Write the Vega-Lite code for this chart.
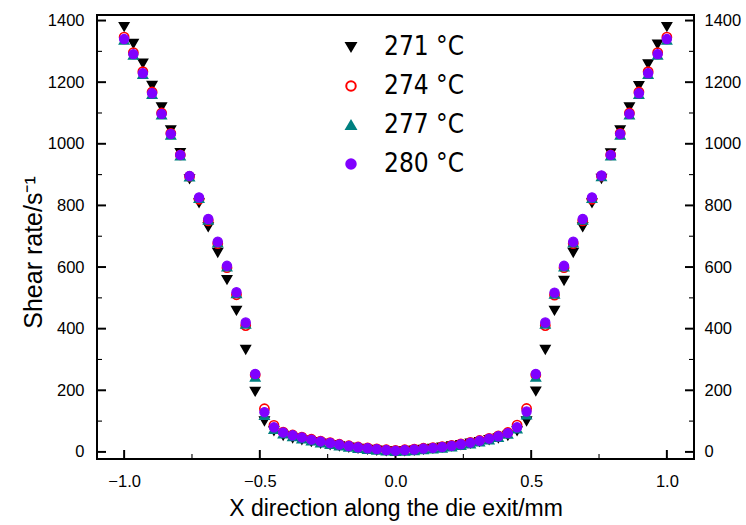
{
  "$schema": "https://vega.github.io/schema/vega-lite/v6.json",
  "width": 597,
  "height": 444,
  "autosize": {"type": "none"},
  "padding": {"left": 97, "top": 15, "right": 52, "bottom": 66},
  "background": "white",
  "config": {
    "view": {"stroke": "black", "strokeWidth": 2},
    "scale": {"continuousPadding": 0},
    "axis": {"grid": false, "domain": false, "ticks": false, "labelColor": "black", "titleColor": "black", "labelFont": "Liberation Sans", "titleFont": "Liberation Sans", "labelFontSize": 16.5, "titleFontSize": 23, "titleFontWeight": "normal"}
  },
  "datasets": {
    "xt": [{"v": -1, "m": "major"}, {"v": -0.75, "m": "minor"}, {"v": -0.5, "m": "major"}, {"v": -0.25, "m": "minor"}, {"v": 0, "m": "major"}, {"v": 0.25, "m": "minor"}, {"v": 0.5, "m": "major"}, {"v": 0.75, "m": "minor"}, {"v": 1, "m": "major"}],
    "yt": [{"v": 0, "m": "major"}, {"v": 100, "m": "minor"}, {"v": 200, "m": "major"}, {"v": 300, "m": "minor"}, {"v": 400, "m": "major"}, {"v": 500, "m": "minor"}, {"v": 600, "m": "major"}, {"v": 700, "m": "minor"}, {"v": 800, "m": "major"}, {"v": 900, "m": "minor"}, {"v": 1000, "m": "major"}, {"v": 1100, "m": "minor"}, {"v": 1200, "m": "major"}, {"v": 1300, "m": "minor"}, {"v": 1400, "m": "major"}],
    "pts": [
    {"x": -1.0, "s": "271", "y": 1380}, {"x": -0.966, "s": "271", "y": 1325}, {"x": -0.931, "s": "271", "y": 1261}, {"x": -0.897, "s": "271", "y": 1189}, {"x": -0.862, "s": "271", "y": 1119}, {"x": -0.828, "s": "271", "y": 1045}, {"x": -0.793, "s": "271", "y": 971}, {"x": -0.759, "s": "271", "y": 886}, {"x": -0.724, "s": "271", "y": 808}, {"x": -0.69, "s": "271", "y": 730}, {"x": -0.655, "s": "271", "y": 647}, {"x": -0.621, "s": "271", "y": 559}, {"x": -0.586, "s": "271", "y": 459}, {"x": -0.552, "s": "271", "y": 332}, {"x": -0.517, "s": "271", "y": 196}, {"x": -0.483, "s": "271", "y": 100}, {"x": -0.448, "s": "271", "y": 68}, {"x": -0.414, "s": "271", "y": 53}, {"x": -0.379, "s": "271", "y": 45}, {"x": -0.345, "s": "271", "y": 39}, {"x": -0.31, "s": "271", "y": 33}, {"x": -0.276, "s": "271", "y": 28}, {"x": -0.241, "s": "271", "y": 23}, {"x": -0.207, "s": "271", "y": 19}, {"x": -0.172, "s": "271", "y": 15}, {"x": -0.138, "s": "271", "y": 11}, {"x": -0.103, "s": "271", "y": 8}, {"x": -0.069, "s": "271", "y": 5}, {"x": -0.034, "s": "271", "y": 3}, {"x": 0.0, "s": "271", "y": 1}, {"x": 0.034, "s": "271", "y": 3}, {"x": 0.069, "s": "271", "y": 5}, {"x": 0.103, "s": "271", "y": 8}, {"x": 0.138, "s": "271", "y": 11}, {"x": 0.172, "s": "271", "y": 15}, {"x": 0.207, "s": "271", "y": 19}, {"x": 0.241, "s": "271", "y": 23}, {"x": 0.276, "s": "271", "y": 28}, {"x": 0.31, "s": "271", "y": 33}, {"x": 0.345, "s": "271", "y": 39}, {"x": 0.379, "s": "271", "y": 45}, {"x": 0.414, "s": "271", "y": 53}, {"x": 0.448, "s": "271", "y": 68}, {"x": 0.483, "s": "271", "y": 100}, {"x": 0.517, "s": "271", "y": 197}, {"x": 0.552, "s": "271", "y": 332}, {"x": 0.586, "s": "271", "y": 459}, {"x": 0.621, "s": "271", "y": 556}, {"x": 0.655, "s": "271", "y": 647}, {"x": 0.69, "s": "271", "y": 730}, {"x": 0.724, "s": "271", "y": 808}, {"x": 0.759, "s": "271", "y": 887}, {"x": 0.793, "s": "271", "y": 970}, {"x": 0.828, "s": "271", "y": 1045}, {"x": 0.862, "s": "271", "y": 1119}, {"x": 0.897, "s": "271", "y": 1188}, {"x": 0.931, "s": "271", "y": 1259}, {"x": 0.966, "s": "271", "y": 1323}, {"x": 1.0, "s": "271", "y": 1380},

    {"x": -1.0, "s": "274", "y": 1346}, {"x": -0.966, "s": "274", "y": 1296}, {"x": -0.931, "s": "274", "y": 1234}, {"x": -0.897, "s": "274", "y": 1168}, {"x": -0.862, "s": "274", "y": 1100}, {"x": -0.828, "s": "274", "y": 1034}, {"x": -0.793, "s": "274", "y": 964}, {"x": -0.759, "s": "274", "y": 894}, {"x": -0.724, "s": "274", "y": 820}, {"x": -0.69, "s": "274", "y": 750}, {"x": -0.655, "s": "274", "y": 676}, {"x": -0.621, "s": "274", "y": 598}, {"x": -0.586, "s": "274", "y": 510}, {"x": -0.552, "s": "274", "y": 410}, {"x": -0.517, "s": "274", "y": 250}, {"x": -0.483, "s": "274", "y": 140}, {"x": -0.448, "s": "274", "y": 86}, {"x": -0.414, "s": "274", "y": 64}, {"x": -0.379, "s": "274", "y": 55}, {"x": -0.345, "s": "274", "y": 48}, {"x": -0.31, "s": "274", "y": 41}, {"x": -0.276, "s": "274", "y": 35}, {"x": -0.241, "s": "274", "y": 30}, {"x": -0.207, "s": "274", "y": 25}, {"x": -0.172, "s": "274", "y": 20}, {"x": -0.138, "s": "274", "y": 16}, {"x": -0.103, "s": "274", "y": 13}, {"x": -0.069, "s": "274", "y": 10}, {"x": -0.034, "s": "274", "y": 7}, {"x": 0.0, "s": "274", "y": 5}, {"x": 0.034, "s": "274", "y": 7}, {"x": 0.069, "s": "274", "y": 9}, {"x": 0.103, "s": "274", "y": 12}, {"x": 0.138, "s": "274", "y": 14}, {"x": 0.172, "s": "274", "y": 17}, {"x": 0.207, "s": "274", "y": 21}, {"x": 0.241, "s": "274", "y": 26}, {"x": 0.276, "s": "274", "y": 31}, {"x": 0.31, "s": "274", "y": 37}, {"x": 0.345, "s": "274", "y": 44}, {"x": 0.379, "s": "274", "y": 52}, {"x": 0.414, "s": "274", "y": 63}, {"x": 0.448, "s": "274", "y": 87}, {"x": 0.483, "s": "274", "y": 141}, {"x": 0.517, "s": "274", "y": 250}, {"x": 0.552, "s": "274", "y": 410}, {"x": 0.586, "s": "274", "y": 509}, {"x": 0.621, "s": "274", "y": 598}, {"x": 0.655, "s": "274", "y": 676}, {"x": 0.69, "s": "274", "y": 750}, {"x": 0.724, "s": "274", "y": 820}, {"x": 0.759, "s": "274", "y": 895}, {"x": 0.793, "s": "274", "y": 964}, {"x": 0.828, "s": "274", "y": 1034}, {"x": 0.862, "s": "274", "y": 1100}, {"x": 0.897, "s": "274", "y": 1168}, {"x": 0.931, "s": "274", "y": 1234}, {"x": 0.966, "s": "274", "y": 1296}, {"x": 1.0, "s": "274", "y": 1346},

    {"x": -1.0, "s": "277", "y": 1337}, {"x": -0.966, "s": "277", "y": 1288}, {"x": -0.931, "s": "277", "y": 1226}, {"x": -0.897, "s": "277", "y": 1161}, {"x": -0.862, "s": "277", "y": 1094}, {"x": -0.828, "s": "277", "y": 1029}, {"x": -0.793, "s": "277", "y": 961}, {"x": -0.759, "s": "277", "y": 893}, {"x": -0.724, "s": "277", "y": 823}, {"x": -0.69, "s": "277", "y": 753}, {"x": -0.655, "s": "277", "y": 679}, {"x": -0.621, "s": "277", "y": 601}, {"x": -0.586, "s": "277", "y": 514}, {"x": -0.552, "s": "277", "y": 415}, {"x": -0.517, "s": "277", "y": 243}, {"x": -0.483, "s": "277", "y": 119}, {"x": -0.448, "s": "277", "y": 74}, {"x": -0.414, "s": "277", "y": 59}, {"x": -0.379, "s": "277", "y": 50}, {"x": -0.345, "s": "277", "y": 43}, {"x": -0.31, "s": "277", "y": 36}, {"x": -0.276, "s": "277", "y": 30}, {"x": -0.241, "s": "277", "y": 25}, {"x": -0.207, "s": "277", "y": 20}, {"x": -0.172, "s": "277", "y": 16}, {"x": -0.138, "s": "277", "y": 12}, {"x": -0.103, "s": "277", "y": 9}, {"x": -0.069, "s": "277", "y": 6}, {"x": -0.034, "s": "277", "y": 4}, {"x": 0.0, "s": "277", "y": 2}, {"x": 0.034, "s": "277", "y": 3}, {"x": 0.069, "s": "277", "y": 5}, {"x": 0.103, "s": "277", "y": 8}, {"x": 0.138, "s": "277", "y": 10}, {"x": 0.172, "s": "277", "y": 13}, {"x": 0.207, "s": "277", "y": 17}, {"x": 0.241, "s": "277", "y": 22}, {"x": 0.276, "s": "277", "y": 27}, {"x": 0.31, "s": "277", "y": 33}, {"x": 0.345, "s": "277", "y": 40}, {"x": 0.379, "s": "277", "y": 48}, {"x": 0.414, "s": "277", "y": 58}, {"x": 0.448, "s": "277", "y": 75}, {"x": 0.483, "s": "277", "y": 121}, {"x": 0.517, "s": "277", "y": 243}, {"x": 0.552, "s": "277", "y": 415}, {"x": 0.586, "s": "277", "y": 513}, {"x": 0.621, "s": "277", "y": 601}, {"x": 0.655, "s": "277", "y": 679}, {"x": 0.69, "s": "277", "y": 753}, {"x": 0.724, "s": "277", "y": 823}, {"x": 0.759, "s": "277", "y": 894}, {"x": 0.793, "s": "277", "y": 961}, {"x": 0.828, "s": "277", "y": 1029}, {"x": 0.862, "s": "277", "y": 1094}, {"x": 0.897, "s": "277", "y": 1161}, {"x": 0.931, "s": "277", "y": 1226}, {"x": 0.966, "s": "277", "y": 1288}, {"x": 1.0, "s": "277", "y": 1337},

    {"x": -1.0, "s": "280", "y": 1340}, {"x": -0.966, "s": "280", "y": 1291}, {"x": -0.931, "s": "280", "y": 1229}, {"x": -0.897, "s": "280", "y": 1164}, {"x": -0.862, "s": "280", "y": 1097}, {"x": -0.828, "s": "280", "y": 1032}, {"x": -0.793, "s": "280", "y": 964}, {"x": -0.759, "s": "280", "y": 896}, {"x": -0.724, "s": "280", "y": 826}, {"x": -0.69, "s": "280", "y": 756}, {"x": -0.655, "s": "280", "y": 682}, {"x": -0.621, "s": "280", "y": 604}, {"x": -0.586, "s": "280", "y": 518}, {"x": -0.552, "s": "280", "y": 420}, {"x": -0.517, "s": "280", "y": 253}, {"x": -0.483, "s": "280", "y": 129}, {"x": -0.448, "s": "280", "y": 80}, {"x": -0.414, "s": "280", "y": 63}, {"x": -0.379, "s": "280", "y": 54}, {"x": -0.345, "s": "280", "y": 47}, {"x": -0.31, "s": "280", "y": 40}, {"x": -0.276, "s": "280", "y": 34}, {"x": -0.241, "s": "280", "y": 29}, {"x": -0.207, "s": "280", "y": 24}, {"x": -0.172, "s": "280", "y": 19}, {"x": -0.138, "s": "280", "y": 15}, {"x": -0.103, "s": "280", "y": 12}, {"x": -0.069, "s": "280", "y": 9}, {"x": -0.034, "s": "280", "y": 6}, {"x": 0.0, "s": "280", "y": 4}, {"x": 0.034, "s": "280", "y": 6}, {"x": 0.069, "s": "280", "y": 8}, {"x": 0.103, "s": "280", "y": 11}, {"x": 0.138, "s": "280", "y": 13}, {"x": 0.172, "s": "280", "y": 16}, {"x": 0.207, "s": "280", "y": 20}, {"x": 0.241, "s": "280", "y": 25}, {"x": 0.276, "s": "280", "y": 30}, {"x": 0.31, "s": "280", "y": 36}, {"x": 0.345, "s": "280", "y": 43}, {"x": 0.379, "s": "280", "y": 51}, {"x": 0.414, "s": "280", "y": 61}, {"x": 0.448, "s": "280", "y": 80}, {"x": 0.483, "s": "280", "y": 131}, {"x": 0.517, "s": "280", "y": 253}, {"x": 0.552, "s": "280", "y": 420}, {"x": 0.586, "s": "280", "y": 517}, {"x": 0.621, "s": "280", "y": 604}, {"x": 0.655, "s": "280", "y": 682}, {"x": 0.69, "s": "280", "y": 756}, {"x": 0.724, "s": "280", "y": 826}, {"x": 0.759, "s": "280", "y": 897}, {"x": 0.793, "s": "280", "y": 964}, {"x": 0.828, "s": "280", "y": 1032}, {"x": 0.862, "s": "280", "y": 1097}, {"x": 0.897, "s": "280", "y": 1164}, {"x": 0.931, "s": "280", "y": 1229}, {"x": 0.966, "s": "280", "y": 1291}, {"x": 1.0, "s": "280", "y": 1340}
  ]},
  "layer": [
    {"data": {"name": "xt"},
     "mark": {"type": "point", "filled": true, "color": "black", "opacity": 1, "strokeWidth": 0, "shape": "M-0.11,0L-0.11,-1L0.11,-1L0.11,0Z"},
     "encoding": {
       "x": {"field": "v", "type": "quantitative", "scale": {"domain": [-1.1, 1.1], "nice": false, "zero": false, "padding": 0},
         "axis": {"title": "X direction along the die exit/mm", "values": [-1, -0.5, 0, 0.5, 1], "format": ".1f", "labelPadding": 14, "titlePadding": 8}},
       "y": {"datum": -23, "type": "quantitative", "scale": {"domain": [-23, 1418], "nice": false, "zero": false, "padding": 0}, "axis": null},
       "size": {"condition": {"test": "datum.m === 'major'", "value": 324}, "value": 100}
     }},
    {"data": {"name": "yt"},
     "mark": {"type": "point", "filled": true, "color": "black", "opacity": 1, "strokeWidth": 0, "shape": "M0,-0.11L1,-0.11L1,0.11L0,0.11Z"},
     "encoding": {
       "y": {"field": "v", "type": "quantitative", "axis": null},
       "x": {"datum": -1.1, "type": "quantitative"},
       "size": {"condition": {"test": "datum.m === 'major'", "value": 324}, "value": 100}
     }},
    {"data": {"name": "yt"},
     "mark": {"type": "point", "filled": true, "color": "black", "opacity": 1, "strokeWidth": 0, "shape": "M0,-0.11L-1,-0.11L-1,0.11L0,0.11Z"},
     "encoding": {
       "y": {"field": "v", "type": "quantitative", "axis": null},
       "x": {"datum": 1.1, "type": "quantitative"},
       "size": {"condition": {"test": "datum.m === 'major'", "value": 324}, "value": 100}
     }},
    {"data": {"name": "pts"},
     "transform": [{"filter": "datum.s != '280'"}],
     "mark": {"type": "point", "size": 85, "strokeWidth": 1.6, "opacity": 1},
     "encoding": {
       "x": {"field": "x", "type": "quantitative"},
       "y": {"field": "y", "type": "quantitative", "axis": {"title": "Shear rate/s⁻¹", "titleFontSize": 25, "titleY": 237, "orient": "left", "values": [0, 200, 400, 600, 800, 1000, 1200, 1400], "format": "d", "labelPadding": 13, "titlePadding": 1}},
       "shape": {"field": "s", "type": "nominal", "scale": {"domain": ["271", "274", "277", "280"], "range": ["triangle-down", "circle", "triangle-up", "circle"]},
         "legend": {"title": null, "orient": "none", "legendX": 241, "legendY": 19, "labelExpr": "datum.label + ' °C'", "labelFont": "DejaVu Sans Condensed", "labelFontSize": 26, "labelColor": "black", "labelOffset": 20, "rowPadding": 13, "symbolSize": 90, "symbolStrokeWidth": 2}},
       "stroke": {"field": "s", "type": "nominal", "scale": {"domain": ["271", "274", "277", "280"], "range": ["#000000", "#ff0000", "#008080", "#8000ff"]}, "legend": null},
       "fill": {"field": "s", "type": "nominal", "scale": {"domain": ["271", "274", "277", "280"], "range": ["#000000", "transparent", "#008080", "#8000ff"]}, "legend": null}
     }},
    {"data": {"name": "pts"},
     "transform": [{"filter": "datum.s == '280'"}],
     "mark": {"type": "point", "size": 85, "strokeWidth": 1.2, "opacity": 1},
     "encoding": {
       "x": {"field": "x", "type": "quantitative"},
       "y": {"field": "y", "type": "quantitative", "axis": {"title": null, "orient": "right", "values": [0, 200, 400, 600, 800, 1000, 1200, 1400], "format": "d", "labelPadding": 10}},
       "shape": {"field": "s", "type": "nominal"},
       "stroke": {"field": "s", "type": "nominal", "legend": null},
       "fill": {"field": "s", "type": "nominal", "legend": null}
     }}
  ],
  "resolve": {"axis": {"y": "independent"}, "scale": {"y": "shared"}}
}
